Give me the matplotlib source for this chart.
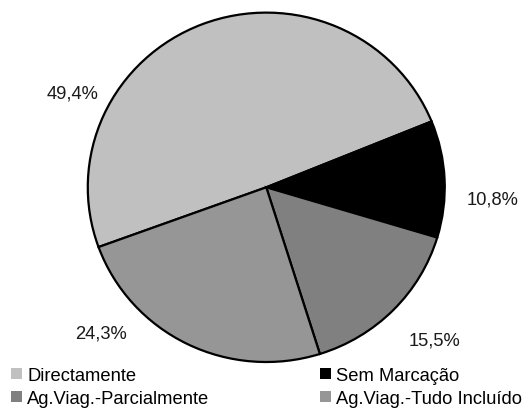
import matplotlib
matplotlib.use("Agg")
import matplotlib.pyplot as plt
from matplotlib.patches import Patch

plt.rcParams['font.family'] = ['Liberation Sans', 'DejaVu Sans']

# data
categories = ["Directamente", "Sem Marcação", "Ag.Viag.-Parcialmente", "Ag.Viag.-Tudo Incluído"]
shares = [49.4, 10.8, 15.5, 24.3]
colors = ["#C0C0C0", "#000000", "#808080", "#969696"]

# label positions (data units, baseline) - excel puts them outside, not on mid-angle
label_pos = [(-1.086, 0.515), (1.267, -0.090), (0.943, -0.897), (-0.926, -0.859)]

fig = plt.figure(figsize=(5.31, 4.10), dpi=100)
ax = fig.add_axes([0.1653, 0.1146, 0.6723, 0.8522])

wedges, _ = ax.pie(shares, colors=colors, startangle=200, counterclock=False,
                   wedgeprops=dict(edgecolor="black", linewidth=1.6))
ax.set_aspect('auto')
ax.set_xlim(-1, 1)
ax.set_ylim(-1, 1)
ax.axis('off')

for v, (x, y) in zip(shares, label_pos):
    ax.text(x, y, f"{v:.1f}%".replace('.', ','), ha='center', va='baseline',
            fontsize=13.2, color='#1a1a1a', clip_on=False)

# legend: row-wise order in the picture, matplotlib fills columns first
order = [0, 2, 1, 3]
handles = [Patch(facecolor=colors[i], edgecolor='none') for i in order]
labels = [categories[i] for i in order]
fig.legend(handles, labels, ncol=2, loc='upper left',
           bbox_to_anchor=(10.7 / 531, 1 - 368 / 410), frameon=False,
           fontsize=13.2, handlelength=0.61, handleheight=0.61, handletextpad=0.28,
           columnspacing=6.05, labelspacing=0.32, borderpad=0, borderaxespad=0)

fig.savefig("out.png", dpi=100)
